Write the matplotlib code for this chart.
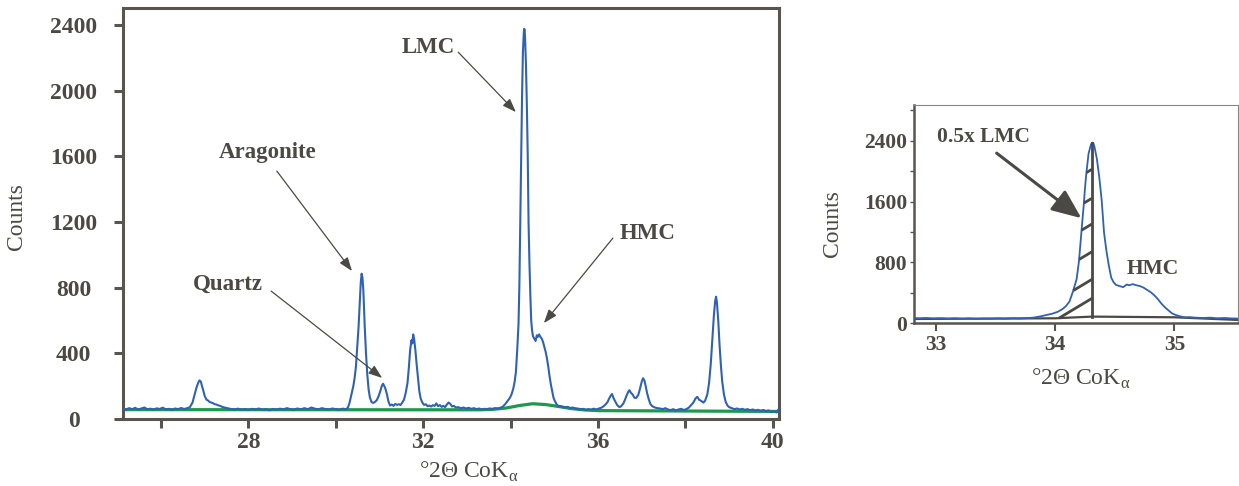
import numpy as np
import matplotlib
matplotlib.use('Agg')
import matplotlib.pyplot as plt

plt.rcParams['font.family'] = ['Liberation Serif', 'DejaVu Serif']
plt.rcParams['mathtext.fontset'] = 'custom'
plt.rcParams['mathtext.rm'] = 'Liberation Serif'

# XRD scan (deg 2theta, counts)
two_theta = [25.13, 25.20, 25.27, 25.34, 25.41, 25.48, 25.55, 25.62, 25.69, 25.76, 25.83, 25.90, 25.97, 26.04,
             26.11, 26.18, 26.25, 26.32, 26.39, 26.46, 26.53, 26.60, 26.66, 26.72, 26.77, 26.81, 26.85, 26.88,
             26.91, 26.94, 26.97, 27.00, 27.04, 27.08, 27.11, 27.15, 27.19, 27.23, 27.27, 27.30, 27.35, 27.40,
             27.45, 27.52, 27.60, 27.68, 27.76, 27.84, 27.92, 28.00, 28.08, 28.16, 28.24, 28.32, 28.40, 28.48,
             28.56, 28.64, 28.72, 28.80, 28.88, 28.96, 29.04, 29.12, 29.20, 29.28, 29.36, 29.44, 29.52, 29.60,
             29.68, 29.76, 29.84, 29.92, 30.00, 30.08, 30.16, 30.22, 30.27, 30.31, 30.34, 30.37, 30.40, 30.43,
             30.46, 30.49, 30.52, 30.55, 30.57, 30.59, 30.61, 30.63, 30.66, 30.69, 30.72, 30.75, 30.78, 30.82,
             30.86, 30.90, 30.94, 30.98, 31.02, 31.05, 31.08, 31.11, 31.14, 31.17, 31.20, 31.24, 31.28, 31.32,
             31.36, 31.40, 31.44, 31.48, 31.52, 31.56, 31.60, 31.64, 31.67, 31.70, 31.73, 31.75, 31.77, 31.79,
             31.82, 31.85, 31.88, 31.91, 31.94, 31.98, 32.02, 32.06, 32.10, 32.14, 32.18, 32.22, 32.26, 32.30,
             32.34, 32.38, 32.42, 32.46, 32.50, 32.54, 32.58, 32.62, 32.66, 32.70, 32.75, 32.80, 32.86, 32.92,
             32.98, 33.04, 33.10, 33.16, 33.22, 33.28, 33.34, 33.40, 33.46, 33.52, 33.58, 33.64, 33.70, 33.76,
             33.82, 33.88, 33.93, 33.98, 34.02, 34.06, 34.09, 34.12, 34.15, 34.18, 34.20, 34.21, 34.22, 34.23,
             34.24, 34.25, 34.26, 34.28, 34.30, 34.31, 34.32, 34.33, 34.35, 34.37, 34.39, 34.41, 34.43, 34.45,
             34.47, 34.49, 34.51, 34.54, 34.57, 34.60, 34.62, 34.65, 34.68, 34.71, 34.74, 34.77, 34.80, 34.83,
             34.86, 34.89, 34.92, 34.95, 34.98, 35.01, 35.05, 35.09, 35.13, 35.18, 35.24, 35.30, 35.36, 35.42,
             35.48, 35.54, 35.60, 35.66, 35.72, 35.78, 35.84, 35.90, 35.96, 36.02, 36.07, 36.12, 36.17, 36.22,
             36.26, 36.29, 36.32, 36.35, 36.39, 36.44, 36.49, 36.53, 36.58, 36.62, 36.66, 36.70, 36.72, 36.75,
             36.79, 36.83, 36.87, 36.92, 36.96, 37.00, 37.03, 37.06, 37.09, 37.12, 37.16, 37.20, 37.24, 37.30,
             37.36, 37.42, 37.48, 37.54, 37.60, 37.66, 37.72, 37.78, 37.84, 37.90, 37.96, 38.02, 38.08, 38.13,
             38.18, 38.23, 38.27, 38.31, 38.36, 38.41, 38.45, 38.50, 38.54, 38.58, 38.62, 38.65, 38.68, 38.70,
             38.72, 38.75, 38.78, 38.81, 38.84, 38.88, 38.92, 38.96, 39.00, 39.06, 39.12, 39.18, 39.24, 39.30,
             39.36, 39.42, 39.48, 39.54, 39.60, 39.66, 39.72, 39.78, 39.84, 39.90, 39.96, 40.02, 40.08, 40.14]
counts = [62, 58, 66, 60, 68, 57, 64, 70, 59, 63, 56, 65, 61, 69,
          58, 62, 55, 64, 60, 67, 61, 66, 72, 100, 150, 190, 220, 235,
          228, 200, 170, 140, 118, 112, 104, 100, 96, 90, 88, 84, 80, 74,
          70, 66, 61, 58, 63, 57, 60, 55, 62, 58, 64, 56, 60, 53,
          61, 57, 63, 59, 66, 60, 57, 64, 59, 66, 60, 70, 63, 59,
          66, 61, 58, 64, 60, 57, 63, 60, 66, 95, 130, 165, 200, 250,
          320, 440, 560, 720, 830, 885, 860, 780, 570, 400, 270, 180, 130, 102,
          98, 105, 116, 140, 172, 200, 215, 200, 180, 150, 110, 82, 88, 80,
          92, 86, 90, 85, 100, 118, 160, 220, 310, 420, 480, 460, 515, 490,
          420, 330, 250, 170, 125, 100, 86, 90, 78, 82, 76, 84, 80, 95,
          78, 85, 74, 80, 72, 88, 100, 92, 76, 80, 70, 72, 66, 70,
          64, 68, 62, 66, 60, 64, 58, 62, 60, 64, 60, 66, 63, 68,
          75, 92, 110, 128, 150, 185, 225, 285, 420, 580, 820, 1010, 1200, 1380,
          1560, 1770, 1950, 2230, 2350, 2376, 2370, 2320, 2160, 1920, 1620, 1190, 950, 760,
          600, 540, 505, 490, 475, 510, 500, 515, 500, 490, 470, 440, 410, 370,
          320, 260, 210, 170, 130, 110, 90, 78, 80, 74, 70, 74, 66, 70,
          64, 62, 58, 62, 55, 60, 57, 63, 58, 64, 68, 76, 88, 105,
          128, 142, 152, 130, 108, 84, 72, 78, 95, 120, 148, 170, 175, 160,
          150, 130, 128, 146, 185, 228, 248, 235, 200, 160, 120, 90, 78, 70,
          66, 64, 60, 66, 58, 54, 60, 52, 58, 62, 55, 60, 70, 85,
          100, 125, 135, 118, 110, 100, 112, 150, 220, 340, 500, 630, 720, 745,
          710, 600, 450, 330, 230, 150, 105, 82, 72, 66, 60, 64, 58, 62,
          56, 60, 54, 58, 52, 56, 50, 55, 48, 52, 44, 46, 40, 62]

# fitted background (green)
bg_theta = [25.13, 33.3, 33.6, 33.9, 34.2, 34.5, 34.8, 35.1, 35.4, 35.7, 36.0, 40.14]
bg_counts = [57, 56, 59, 67, 82, 93, 88, 76, 63, 55, 51, 46]

# background under the LMC peak in the zoomed panel
zoom_bg_theta = [32.82, 34.0, 34.31, 35.0, 35.53]
zoom_bg_counts = [57, 66, 88, 79, 44]

# hatch levels where the hatch lines meet the vertical line at the LMC maximum
hatch_levels = [329, 579, 942, 1307, 1645, 2026]
hatch_slope = 940  # counts per degree

left_ticks = [26, 28, 30, 32, 34, 36, 38, 40]
left_ticklabels = ['', '28', '', '32', '', '36', '', '40']
left_yticks = [0, 400, 800, 1200, 1600, 2000, 2400]
right_ticks = [33, 34, 35]
right_yticks = [0, 400, 800, 1200, 1600, 2000, 2400, 2800]
right_yticklabels = ['0', '', '800', '', '1600', '', '2400', '']

blue = '#2f62b5'
green = '#1b9a4e'
dark = '#4b4943'
spine_c = '#59554e'
xlabel = '°2Θ CoK$_\\mathrm{\\alpha}$'

theta = np.array(two_theta)
cnt = np.array(counts)

fig = plt.figure(figsize=(12.39, 4.86), dpi=100)

# ---- main pattern
ax = fig.add_axes([0.09927, 0.13786, 0.52946, 0.84568])
ax.plot(bg_theta, bg_counts, color=green, lw=2.3, zorder=2)
ax.plot(theta, cnt, color=blue, lw=1.5, zorder=3)
ax.set_xlim(25.13, 40.14)
ax.set_ylim(0, 2503)
for s in ax.spines.values():
    s.set_color(spine_c)
    s.set_linewidth(2.2)
ax.set_xticks(left_ticks)
ax.set_xticklabels(left_ticklabels)
ax.set_yticks(left_yticks)
ax.tick_params(axis='both', direction='out', length=6.5, width=2.2, color=spine_c,
               labelsize=17, labelcolor=dark)
ax.tick_params(axis='x', pad=3)
ax.tick_params(axis='y', pad=29)
for lab in ax.get_xticklabels() + ax.get_yticklabels():
    lab.set_fontweight('bold')
for lab in ax.get_yticklabels():
    lab.set_horizontalalignment('center')
ax.set_xlabel(xlabel, fontsize=17, color=dark)
ax.xaxis.set_label_coords(0.527, -0.10)
ax.set_ylabel('Counts', fontsize=17, color=dark)
ax.yaxis.set_label_coords(-0.146, 0.492)

thin_arrow = dict(arrowstyle='-|>,head_length=0.55,head_width=0.2', color=dark, lw=0.9,
                  mutation_scale=15, shrinkA=0, shrinkB=0)
labels = [('LMC', (32.11, 2265), (32.80, 2234), (34.12, 1869)),
          ('Aragonite', (28.44, 1625), (28.65, 1510), (30.37, 901)),
          ('Quartz', (27.53, 822), (28.52, 779), (31.06, 250)),
          ('HMC', (37.14, 1132), (36.34, 1102), (34.76, 584))]
for name, txt, start, end in labels:
    ax.text(txt[0], txt[1], name, fontsize=16.5, fontweight='bold', color=dark,
            ha='center', va='center')
    ax.annotate('', xy=end, xytext=start, arrowprops=thin_arrow)

# ---- zoom on LMC / HMC
ax2 = fig.add_axes([0.73794, 0.33477, 0.26102, 0.44918])
ax2.plot(theta, cnt, color=blue, lw=1.3, zorder=3)
ax2.plot(zoom_bg_theta, zoom_bg_counts, color=dark, lw=1.6, zorder=2)
ax2.set_xlim(32.82, 35.53)
ax2.set_ylim(0, 2870)

peak_i = np.argmax(cnt)
peak_x, peak_y = theta[peak_i], cnt[peak_i]
peak_base = np.interp(peak_x, zoom_bg_theta, zoom_bg_counts)
ax2.plot([peak_x, peak_x], [peak_base, peak_y], color=dark, lw=2, zorder=4)

xs = np.linspace(33.8, peak_x, 3000)
curve = np.interp(xs, theta, cnt)
base = np.interp(xs, zoom_bg_theta, zoom_bg_counts)
for lvl in hatch_levels:
    line = lvl - hatch_slope * (peak_x - xs)
    hit = np.where((line >= curve) | (line <= base))[0]
    i0 = hit[-1] if len(hit) else 0
    ax2.plot([xs[i0], peak_x], [line[i0], lvl], color=dark, lw=2, zorder=4,
             solid_capstyle='butt')

for side in ['left', 'bottom']:
    ax2.spines[side].set_color(spine_c)
    ax2.spines[side].set_linewidth(1.8)
for side in ['top', 'right']:
    ax2.spines[side].set_color('#8a8782')
    ax2.spines[side].set_linewidth(0.8)
ax2.set_xticks(right_ticks)
ax2.set_yticks(right_yticks)
ax2.set_yticklabels(right_yticklabels)
ax2.tick_params(axis='x', direction='out', length=5.5, width=1.5, color=spine_c,
                labelsize=15.5, labelcolor=dark, pad=3)
ax2.tick_params(axis='y', direction='out', length=3, width=1, color=spine_c,
                labelsize=15.5, labelcolor=dark, pad=2)
for lab in ax2.get_xticklabels() + ax2.get_yticklabels():
    lab.set_fontweight('bold')
ax2.set_xlabel(xlabel, fontsize=17, color=dark)
ax2.xaxis.set_label_coords(0.514, -0.20)
ax2.set_ylabel('Counts', fontsize=17, color=dark)
ax2.yaxis.set_label_coords(-0.222, 0.455)

ax2.text(33.40, 2455, '0.5x LMC', fontsize=15.5, fontweight='bold', color=dark,
         ha='center', va='center')
ax2.annotate('', xy=(34.22, 1382), xytext=(33.51, 2237),
             arrowprops=dict(arrowstyle='-|>,head_length=0.9,head_width=0.38', color=dark,
                             lw=2.2, mutation_scale=20, shrinkA=0, shrinkB=0))
ax2.text(34.82, 714, 'HMC', fontsize=15.5, fontweight='bold', color=dark,
         ha='center', va='center')

fig.savefig('out.png', dpi=100)
